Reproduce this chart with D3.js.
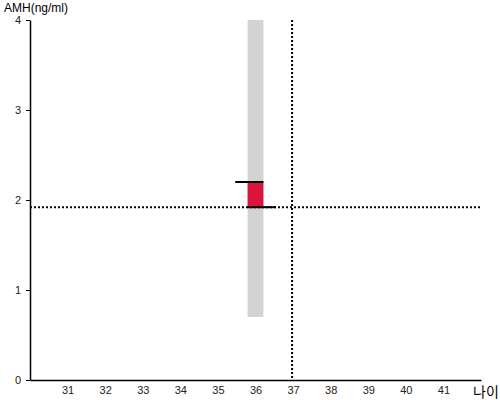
<!DOCTYPE html>
<html><head><meta charset="utf-8">
<script src="https://cdn.jsdelivr.net/npm/d3@7"></script>
<style>body{margin:0;background:#fff;} svg{display:block;font-family:"Liberation Sans",Arial,sans-serif;}</style>
</head><body><svg id="c" width="500" height="400"></svg>
<script>
const xTicks = [31,32,33,34,35,36,37,38,39,40,41];
const yTicks = [0,1,2,3,4];
const rangeAge = [36];
const rangeLow = [0.7];
const rangeHigh = [4];
const valueLow = [1.92];
const valueHigh = [2.2];
const refAge = [37];
const refAmh = [1.92];
const xLabel = "나이";
const yLabel = "AMH(ng/ml)";

const svg = d3.select("#c");
const x = d3.scaleLinear().domain([30, 42]).range([30, 481]);
const y = d3.scaleLinear().domain([0, 4]).range([380, 20]);
const bw = 0.42, ext = 0.33;

// gray range bar
svg.selectAll(".rng").data(rangeAge).enter().append("rect")
  .attr("x", (d)=>x(d-bw/2)).attr("width", (d)=>x(d+bw/2)-x(d-bw/2))
  .attr("y", (d,i)=>y(rangeHigh[i])).attr("height", (d,i)=>y(rangeLow[i])-y(rangeHigh[i]))
  .attr("fill", "#d3d3d3");
// red value bar
svg.selectAll(".val").data(rangeAge).enter().append("rect")
  .attr("x", (d)=>x(d-bw/2)).attr("width", (d)=>x(d+bw/2)-x(d-bw/2))
  .attr("y", (d,i)=>y(valueHigh[i])).attr("height", (d,i)=>y(valueLow[i])-y(valueHigh[i]))
  .attr("fill", "#dc143c");

// dotted reference lines
svg.append("line").attr("x1", x(30)).attr("x2", x(42)).attr("y1", y(refAmh[0])).attr("y2", y(refAmh[0]))
  .attr("stroke", "#000").attr("stroke-width", 2).attr("stroke-dasharray", "2,2");
svg.append("line").attr("x1", x(refAge[0])-1).attr("x2", x(refAge[0])-1).attr("y1", y(4)).attr("y2", y(0))
  .attr("stroke", "#000").attr("stroke-width", 2).attr("stroke-dasharray", "2,2");

// top/bottom markers
rangeAge.forEach((d,i)=>{
  svg.append("line").attr("x1", x(d-bw/2-ext)).attr("x2", x(d+bw/2)).attr("y1", y(valueHigh[i])).attr("y2", y(valueHigh[i]))
    .attr("stroke","#000").attr("stroke-width",2);
  svg.append("line").attr("x1", x(d-bw/2)).attr("x2", x(d+bw/2+ext)).attr("y1", y(valueLow[i])).attr("y2", y(valueLow[i]))
    .attr("stroke","#000").attr("stroke-width",2);
});

// axes
const xa = svg.append("g").attr("transform", `translate(0,${y(0)})`)
  .call(d3.axisBottom(x).tickValues(xTicks).tickFormat(d3.format("d")).tickSize(0).tickPadding(6).tickSizeOuter(0));
xa.select(".domain").attr("stroke","#000").attr("stroke-width",1.5);
xa.selectAll("text").attr("font-size", 11).attr("font-family","Liberation Sans, Arial, sans-serif").attr("fill","#222");
const ya = svg.append("g").attr("transform", `translate(${x(30)},0)`)
  .call(d3.axisLeft(y).tickValues(yTicks).tickFormat(d3.format("d")).tickSize(4).tickPadding(5).tickSizeOuter(0));
ya.select(".domain").attr("stroke","#000").attr("stroke-width",1.5);
ya.selectAll("line").attr("stroke","#000");
ya.selectAll("text").attr("font-size", 11).attr("font-family","Liberation Sans, Arial, sans-serif").attr("fill","#222");

svg.append("text").attr("x", 4).attr("y", 11.5).attr("font-size", 12).attr("fill","#000").text(yLabel);
svg.append("text").attr("x", 473).attr("y", 397).attr("font-size", 14)
  .attr("font-family", "'Noto Sans CJK KR', sans-serif").attr("fill","#000").text(xLabel);
</script></body></html>
